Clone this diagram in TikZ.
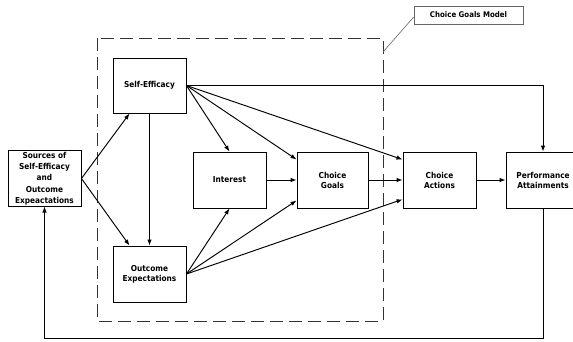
\documentclass[tikz,border=0pt]{standalone}
\usepackage{fontspec}
\setmainfont{DejaVu Sans Condensed}
\usetikzlibrary{arrows.meta,calc}
\begin{document}
\begin{tikzpicture}[x=1pt,y=-1pt,
  box/.style={draw,line width=0.9pt,minimum width=73pt,minimum height=56pt,align=center,inner sep=1pt,
    font=\fontsize{8.2}{10}\selectfont\bfseries},
  conn/.style={line width=0.95pt,-{Latex[length=6pt,width=4.5pt]}},
  lbl/.style={draw=black!60,line width=0.6pt,minimum width=109pt,minimum height=18pt,inner sep=1pt,
    font=\fontsize{7.8}{9}\selectfont\bfseries}]
\useasboundingbox (0,0) rectangle (573,341);
\fill[white] (0,0) rectangle (573,341);
% dashed frame
\draw[black!80,line width=1pt,dash pattern=on 13pt off 6pt] (97,38) rectangle (383,321);
\coordinate (fr) at (383,52);
% nodes
\node[box,minimum height=55pt,font=\fontsize{8.2}{11.3}\selectfont\bfseries] (src) at (44.5,178.5) {Sources of\\Self-Efficacy\\and\\Outcome\\Expeactations};
\node[box,minimum height=55pt] (se) at (149.5,85.5) {Self-Efficacy};
\node[box] (oe) at (149.5,274) {Outcome\\Expectations};
\node[box] (int) at (229.5,180) {Interest};
\node[box,minimum width=71pt] (cg) at (332.5,180) {Choice\\Goals};
\node[box] (ca) at (439.5,180) {Choice\\Actions};
\node[box,minimum width=74pt] (pa) at (543,180) {Performance\\Attainments};
\node[lbl] (cgm) at (468.5,15) {Choice Goals Model};
\draw[black!60,line width=0.6pt] (cgm.west) ++(0,2) -- (fr);
% coordinates on box sides
\coordinate (seIn) at ($(se.south west)!0.23!(se.south east)$);
\coordinate (oeIn) at ($(oe.north west)!0.23!(oe.north east)$);
\coordinate (cgA) at ($(cg.north west)!0.14!(cg.south west)$);
\coordinate (cgB) at ($(cg.north west)!0.86!(cg.south west)$);
\coordinate (caA) at ($(ca.north west)!0.14!(ca.south west)$);
\coordinate (caB) at ($(ca.north west)!0.84!(ca.south west)$);
% connectors
\draw[conn] (src.east) -- (seIn);
\draw[conn] (src.east) -- (oeIn);
\draw[conn] (se.south) -- (oe.north);
\draw[conn] (se.east) -- (int.north);
\draw[conn] (se.east) -- (cgA);
\draw[conn] (se.east) -- (caA);
\draw[conn] (se.east) -| (pa.north);
\draw[conn] (oe.east) -- (int.south);
\draw[conn] (oe.east) -- (cgB);
\draw[conn] (oe.east) -- (caB);
\draw[conn] (int.east) -- (cg.west);
\draw[conn] (cg.east) -- (ca.west);
\draw[conn] (ca.east) -- (pa.west);
\coordinate (fbR) at (pa.south |- 0,338);
\coordinate (fbL) at (src.south |- 0,338);
\draw[conn] (pa.south) -- (fbR) -- (fbL) -- (src.south);
\end{tikzpicture}
\end{document}
